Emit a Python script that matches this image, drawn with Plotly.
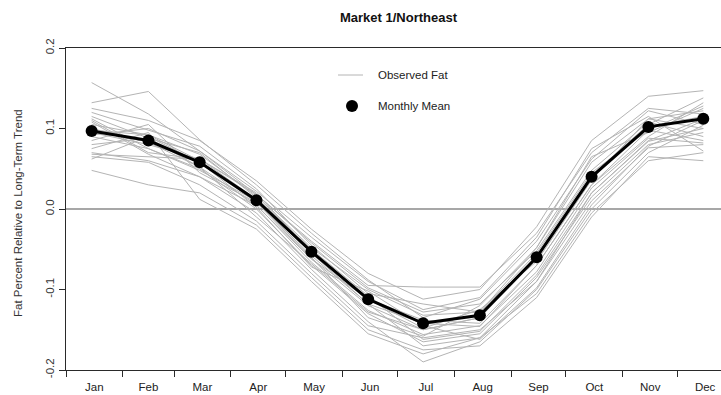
import plotly.graph_objects as go

# Month labels and mid-month sample dates (one per month)
months = ["Jan", "Feb", "Mar", "Apr", "May", "Jun",
          "Jul", "Aug", "Sep", "Oct", "Nov", "Dec"]
month_dates = [f"2001-{m:02d}-15" for m in range(1, 13)]

# Mean seasonal fat deviation for each month
monthly_mean = [0.097, 0.085, 0.058, 0.011, -0.053, -0.112,
                -0.142, -0.132, -0.060, 0.040, 0.102, 0.112]

# Observed seasonal fat deviations, one list per year
observed_years = [
    [0.157, 0.118, 0.072, 0.018, -0.042, -0.098, -0.128, -0.118, -0.052, 0.048, 0.108, 0.090],
    [0.132, 0.146, 0.086, 0.030, -0.030, -0.088, -0.135, -0.112, -0.040, 0.062, 0.122, 0.105],
    [0.120, 0.098, 0.078, 0.025, -0.045, -0.105, -0.118, -0.128, -0.055, 0.045, 0.098, 0.128],
    [0.115, 0.088, 0.070, 0.014, -0.050, -0.112, -0.148, -0.125, -0.065, 0.036, 0.112, 0.100],
    [0.110, 0.070, 0.062, 0.020, -0.055, -0.118, -0.142, -0.146, -0.070, 0.030, 0.090, 0.132],
    [0.105, 0.092, 0.060, 0.008, -0.062, -0.120, -0.150, -0.135, -0.058, 0.040, 0.102, 0.115],
    [0.100, 0.083, 0.052, 0.005, -0.066, -0.126, -0.156, -0.145, -0.078, 0.026, 0.088, 0.082],
    [0.095, 0.080, 0.062, 0.012, -0.050, -0.108, -0.162, -0.152, -0.082, 0.020, 0.085, 0.112],
    [0.090, 0.075, 0.050, 0.000, -0.070, -0.130, -0.165, -0.155, -0.085, 0.015, 0.080, 0.095],
    [0.085, 0.105, 0.045, 0.008, -0.058, -0.118, -0.170, -0.160, -0.090, 0.010, 0.076, 0.080],
    [0.070, 0.060, 0.040, -0.005, -0.075, -0.140, -0.190, -0.165, -0.100, 0.000, 0.070, 0.104],
    [0.068, 0.065, 0.062, 0.018, -0.040, -0.095, -0.097, -0.097, -0.030, 0.070, 0.125, 0.118],
    [0.048, 0.030, 0.020, -0.020, -0.085, -0.150, -0.175, -0.170, -0.110, -0.010, 0.065, 0.060],
    [0.125, 0.110, 0.085, 0.035, -0.025, -0.080, -0.112, -0.100, -0.022, 0.085, 0.140, 0.147],
    [0.065, 0.058, 0.030, -0.015, -0.080, -0.145, -0.160, -0.150, -0.090, 0.020, 0.084, 0.100],
    [0.092, 0.100, 0.072, 0.022, -0.035, -0.090, -0.125, -0.110, -0.035, 0.075, 0.115, 0.072],
    [0.080, 0.088, 0.052, -0.010, -0.068, -0.128, -0.150, -0.135, -0.062, 0.042, 0.105, 0.138],
    [0.108, 0.068, 0.040, 0.004, -0.062, -0.112, -0.138, -0.142, -0.070, 0.030, 0.098, 0.085],
    [0.098, 0.092, 0.068, 0.016, -0.048, -0.100, -0.132, -0.128, -0.048, 0.058, 0.112, 0.122],
    [0.075, 0.095, 0.012, -0.025, -0.090, -0.155, -0.180, -0.160, -0.105, -0.005, 0.060, 0.070],
    [0.112, 0.075, 0.048, 0.010, -0.060, -0.135, -0.158, -0.120, -0.048, 0.065, 0.095, 0.125],
    [0.062, 0.090, 0.058, 0.002, -0.072, -0.102, -0.145, -0.162, -0.098, 0.005, 0.078, 0.110],
]

y_ticks = [-0.2, -0.1, 0.0, 0.1, 0.2]
y_tick_text = ["-0.2", "-0.1", "0.0", "0.1", "0.2"]

FONT = "Liberation Sans, Arial, sans-serif"
GRAY = "#b4b4b4"
FRAME = "#2a2a2a"

fig = go.Figure()

for series in observed_years:
    fig.add_trace(go.Scatter(
        x=month_dates, y=series, mode="lines",
        line=dict(color=GRAY, width=1), hoverinfo="skip", showlegend=False,
    ))

fig.add_trace(go.Scatter(
    x=month_dates, y=monthly_mean, mode="lines+markers",
    line=dict(color="black", width=3),
    marker=dict(color="black", size=12),
    showlegend=False,
))

# Reference line at zero
fig.add_shape(type="line", xref="paper", yref="y", x0=0, x1=1, y0=0, y1=0,
              line=dict(color="#8a8a8a", width=1.5), layer="below")

# Hand-placed key
fig.add_shape(type="line", xref="paper", yref="paper",
              x0=(338 - 66) / 655, x1=(363 - 66) / 655,
              y0=(370 - 75) / 322, y1=(370 - 75) / 322,
              line=dict(color=GRAY, width=1))
fig.add_shape(type="circle", xref="paper", yref="paper",
              x0=(346 - 66) / 655, x1=(358 - 66) / 655,
              y0=(370 - 112) / 322, y1=(370 - 100) / 322,
              fillcolor="black", line=dict(color="black", width=0))
legend_items = [("Observed Fat", 75), ("Monthly Mean", 106)]
for label, ypix in legend_items:
    fig.add_annotation(text=label, xref="paper", yref="paper",
                       x=(376 - 66) / 655, y=(370 - ypix) / 322,
                       xanchor="left", yanchor="middle", showarrow=False,
                       font=dict(family=FONT, size=11.5, color="#222"))

# Title and y-axis label
fig.add_annotation(text="<b>Market 1/Northeast</b>", xref="paper", yref="paper",
                   x=(399 - 66) / 655, y=(370 - 18) / 322,
                   xanchor="center", yanchor="middle", showarrow=False,
                   font=dict(family=FONT, size=13, color="#111"))
fig.add_annotation(text="Fat Percent Relative to Long-Term Trend",
                   xref="paper", yref="paper", x=(18 - 66) / 655,
                   y=(370 - 213) / 322,
                   xanchor="center", yanchor="middle", textangle=-90,
                   showarrow=False,
                   font=dict(family=FONT, size=11.5, color="#333"))

fig.update_layout(
    width=721, height=395,
    margin=dict(l=66, r=0, t=48, b=25),
    paper_bgcolor="white", plot_bgcolor="white",
    font=dict(family=FONT, size=11.5, color="#222"),
    xaxis=dict(
        type="date",
        range=["2001-01-01", "2001-12-24 16:00"],
        tick0="2001-01-01", dtick="M1", tickformat="%b",
        ticklabelmode="period",
        ticks="outside", ticklen=6, tickcolor=FRAME, tickwidth=1,
        showline=True, linecolor=FRAME, linewidth=1, mirror=True,
        showgrid=False, zeroline=False,
        tickfont=dict(family=FONT, size=11.5, color="#222"),
    ),
    yaxis=dict(
        range=[-0.2, 0.2],
        tickvals=y_ticks, ticktext=y_tick_text, tickangle=-90,
        ticks="outside", ticklen=6, tickcolor=FRAME, tickwidth=1,
        showline=True, linecolor=FRAME, linewidth=1, mirror=False,
        showgrid=False, zeroline=False,
        tickfont=dict(family=FONT, size=11.5, color="#333"),
    ),
)

fig.write_html("out.html")
